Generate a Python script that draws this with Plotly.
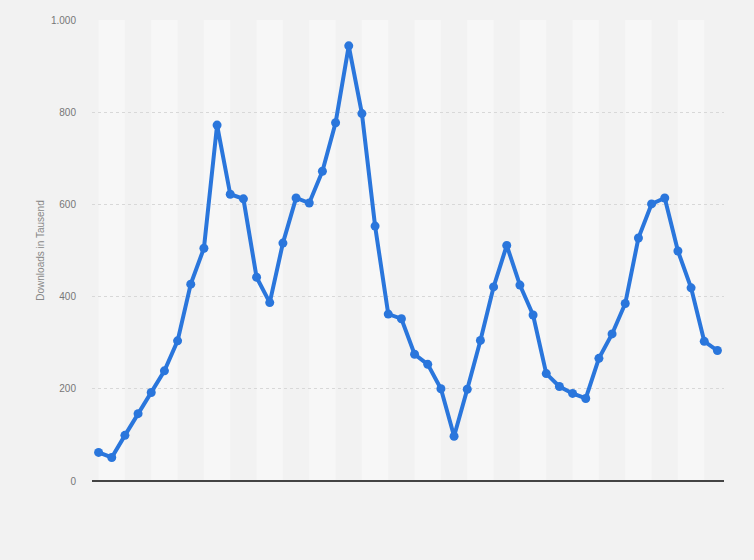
import plotly.graph_objects as go

# Data (values in thousands)
downloads = [62, 51, 99, 146, 192, 239, 304, 427, 505, 772,
             622, 612, 442, 387, 516, 614, 603, 672, 777, 944,
             797, 553, 362, 352, 275, 253, 200, 97, 199, 305,
             421, 511, 425, 360, 233, 205, 190, 179, 266, 319,
             385, 527, 601, 614, 499, 419, 303, 283]
x_idx = list(range(len(downloads)))
y_tickvals = [0, 200, 400, 600, 800, 1000]
y_ticktext = ["0", "200", "400", "600", "800", "1.000"]

fig = go.Figure()
fig.add_trace(go.Scatter(
    x=x_idx, y=downloads, mode="lines+markers",
    line=dict(color="#2a76dc", width=4),
    marker=dict(color="#2a76dc", size=9),
    hoverinfo="skip", showlegend=False,
))

# alternating column bands
shapes = []
for i in range(0, len(downloads), 4):
    shapes.append(dict(type="rect", xref="x", yref="y", x0=i, x1=i + 2,
                       y0=0, y1=1000, fillcolor="#f7f7f7", line=dict(width=0),
                       layer="below"))

fig.update_layout(
    width=754, height=560,
    margin=dict(l=92, r=30, t=20, b=79),
    paper_bgcolor="#f2f2f2", plot_bgcolor="#f2f2f2",
    shapes=shapes,
    font=dict(family="Liberation Sans, Arial, sans-serif", size=10, color="#777777"),
    xaxis=dict(range=[-0.5, len(downloads) - 0.5], showgrid=False, zeroline=False,
               showticklabels=False, ticks="", showline=False),
    yaxis=dict(range=[0, 1000], tickvals=y_tickvals, ticktext=y_ticktext,
               showgrid=True, gridcolor="#d8d8d8", griddash="dot", gridwidth=1,
               zeroline=True, zerolinecolor="#444444", zerolinewidth=2,
               ticks="", ticklabelstandoff=15,
               title=dict(text="Downloads in Tausend", font=dict(size=10, color="#888888"),
                          standoff=4)),
)

fig.write_html("out.html", config={"displayModeBar": False},
               post_script="document.body.style.margin='0';document.body.style.background='#f2f2f2';")
